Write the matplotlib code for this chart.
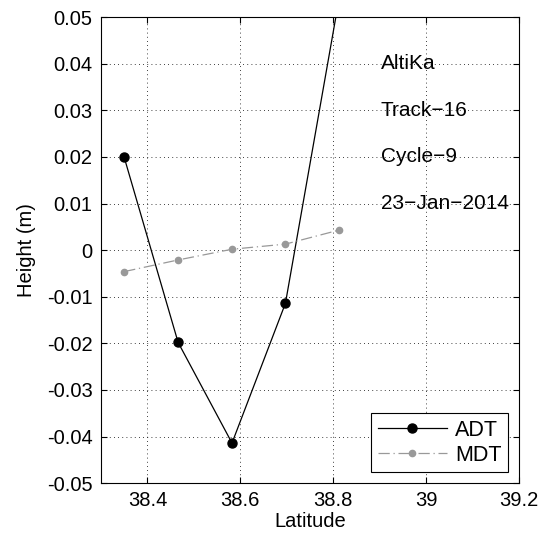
import matplotlib.pyplot as plt

plt.rcParams['font.family'] = ['Liberation Sans', 'DejaVu Sans']

# along-track latitudes and heights (m)
lat = [38.350, 38.466, 38.582, 38.697, 38.812]
adt = [0.0199, -0.0198, -0.0414, -0.0114, 0.0537]
mdt = [-0.0046, -0.0021, 0.0002, 0.0013, 0.0043]

info_lines = ['AltiKa', 'Track\u221216', 'Cycle\u22129', '23\u2212Jan\u22122014']
info_y = [0.04, 0.03, 0.02, 0.01]

fig = plt.figure(figsize=(5.43, 5.38), dpi=100)
ax = fig.add_axes([0.186, 0.102, 0.770, 0.866])

ax.plot(lat, adt, '-', color='black', lw=0.9, marker='o', ms=6.5, label='ADT')
ax.plot(lat, mdt, '-.', color=(0.6, 0.6, 0.6), lw=0.9, marker='o', ms=4.5,
        dashes=(9, 3, 1, 3), label='MDT')

for txt, yy in zip(info_lines, info_y):
    ax.text(38.902, yy, txt, fontsize=15, va='center', ha='left')

ax.set_xlim(38.3, 39.2)
ax.set_ylim(-0.05, 0.05)
ax.set_xticks([38.4, 38.6, 38.8, 39, 39.2])
ax.set_xticklabels(['38.4', '38.6', '38.8', '39', '39.2'])
ax.set_yticks([i / 100 for i in range(-5, 6)])
ax.set_yticklabels(['%g' % (i / 100) for i in range(-5, 6)])

ax.grid(True, ls=(0, (1, 4)), color='black', lw=0.6)
ax.tick_params(direction='in', top=True, right=True, labelsize=14.5, length=4, pad=6)
for s in ax.spines.values():
    s.set_linewidth(0.8)

ax.set_xlabel('Latitude', fontsize=14.5, labelpad=1)
ax.set_ylabel('Height (m)', fontsize=14.5, labelpad=8)

leg = ax.legend(loc='lower right', fontsize=15.5, fancybox=False, framealpha=1,
                edgecolor='black', handlelength=3.2, borderaxespad=0.5,
                borderpad=0.3, labelspacing=0.2, handletextpad=0.4)
leg.get_frame().set_linewidth(0.8)

fig.savefig('out.png', dpi=100)
